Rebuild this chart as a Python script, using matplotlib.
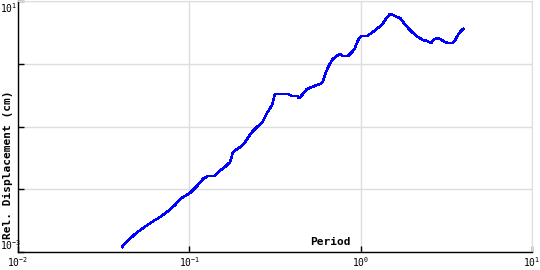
import matplotlib
matplotlib.use("Agg")
import matplotlib.pyplot as plt
from matplotlib.transforms import blended_transform_factory

plt.rcParams['font.family'] = ['DejaVu Sans Mono']
plt.rcParams['mathtext.fontset'] = 'custom'
plt.rcParams['mathtext.rm'] = 'DejaVu Sans Mono'
plt.rcParams['mathtext.it'] = 'DejaVu Sans Mono'

# response spectrum
period = [0.0405, 0.0421, 0.0438, 0.0482, 0.0537, 0.0605, 0.0675, 0.0752, 0.0825, 0.0883,
          0.0944, 0.1009, 0.111, 0.120, 0.1286, 0.141, 0.147, 0.1615, 0.173, 0.180,
          0.198, 0.2115, 0.232, 0.252, 0.266, 0.284, 0.304, 0.316, 0.377, 0.398,
          0.426, 0.437, 0.455, 0.486, 0.520, 0.556, 0.596, 0.603, 0.619, 0.646,
          0.681, 0.709, 0.759, 0.789, 0.843, 0.891, 0.927, 0.966, 1.005, 1.09,
          1.18, 1.26, 1.33, 1.39, 1.48, 1.55, 1.63, 1.70, 1.77, 1.89,
          2.02, 2.16, 2.31, 2.44, 2.58, 2.65, 2.79, 2.91, 3.11, 3.24,
          3.42, 3.56, 3.70, 3.80, 3.96]
disp = [0.00120, 0.00139, 0.00150, 0.00194, 0.00241, 0.00301, 0.00361, 0.00450, 0.00561, 0.00700,
        0.00780, 0.00871, 0.0113, 0.0146, 0.0163, 0.0163, 0.0188, 0.0226, 0.0272, 0.0393,
        0.0471, 0.0566, 0.0817, 0.102, 0.114, 0.164, 0.220, 0.330, 0.330, 0.306,
        0.306, 0.284, 0.318, 0.396, 0.426, 0.458, 0.493, 0.531, 0.662, 0.887,
        1.15, 1.28, 1.43, 1.33, 1.33, 1.54, 1.78, 2.39, 2.77, 2.77,
        3.21, 3.71, 4.15, 4.98, 6.21, 5.98, 5.56, 5.36, 4.62, 3.71,
        3.09, 2.67, 2.39, 2.31, 2.14, 2.39, 2.57, 2.48, 2.22, 2.14,
        2.14, 2.39, 2.87, 3.21, 3.58]

xticks = [0.01, 0.1, 1, 10]
xlabels = ['$10^{-2}$', '$10^{-1}$', '$10^{0}$', '$10^{1}$']
yticks = [0.001, 0.01, 0.1, 1, 10]

fig = plt.figure(figsize=(5.4, 2.7), dpi=100)
ax = fig.add_axes([18/540, 18/270, 514/540, 251/270])
ax.plot(period, disp, color='#0000ff', lw=1.1, antialiased=False)
ax.set_xscale('log')
ax.set_yscale('log')
ax.set_xlim(0.01, 10)
ax.set_ylim(0.001, 10)

ax.set_xticks(xticks)
ax.set_xticklabels(xlabels)
ax.set_yticks(yticks)
ax.set_yticklabels([])
ax.minorticks_off()
ax.tick_params(direction='in', length=4, width=1, labelsize=7, color='black')
ax.tick_params(axis='x', pad=2)

# only the end labels of the y axis are shown, kept inside the figure
tr = blended_transform_factory(fig.transFigure, ax.transData)
ax.text(0.0, yticks[0], '$10^{-3}$', transform=tr, fontsize=7, ha='left', va='bottom')
ax.text(0.0, yticks[-1], '$10^{1}$', transform=tr, fontsize=7, ha='left', va='top')

ax.grid(True, color='#dddddd', lw=1)
for s in ['top', 'right']:
    ax.spines[s].set_color('#dddddd')
for s in ['left', 'bottom']:
    ax.spines[s].set_color('black')
    ax.spines[s].set_linewidth(1)

ax.text(312/514, 0.04, 'Period', transform=ax.transAxes,
        fontsize=8, fontweight='bold', ha='center', va='center')
fig.text(8/540, 1 - 165/270, 'Rel. Displacement (cm)', rotation=90,
         fontsize=8, fontweight='bold', ha='center', va='center')

fig.savefig('out.png', dpi=100)
